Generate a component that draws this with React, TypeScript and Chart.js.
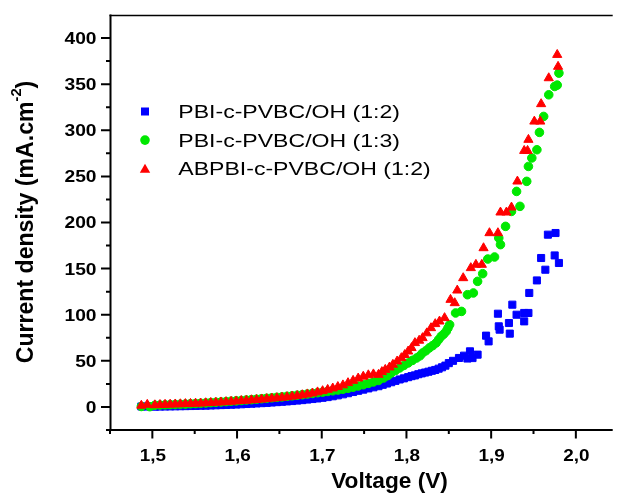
import React, { useEffect, useRef } from 'react';
import { Chart, registerables } from 'chart.js';

Chart.register(...registerables);

// ---------- data ----------
const seriesLabels = ['PBI-c-PVBC/OH (1:2)', 'PBI-c-PVBC/OH (1:3)', 'ABPBI-c-PVBC/OH (1:2)'];

const blueV = [1.487, 1.494, 1.503, 1.509, 1.515, 1.521, 1.527, 1.533, 1.539, 1.545, 1.551, 1.557, 1.563, 1.569, 1.575, 1.581, 1.587, 1.593, 1.599, 1.605, 1.611, 1.617, 1.623, 1.629, 1.635, 1.641, 1.647, 1.653, 1.659, 1.665, 1.671, 1.677, 1.683, 1.689, 1.695, 1.701, 1.707, 1.713, 1.719, 1.725, 1.731, 1.737, 1.743, 1.749, 1.755, 1.761, 1.767, 1.772, 1.777, 1.782, 1.787, 1.792, 1.797, 1.802, 1.806, 1.81, 1.814, 1.818, 1.822, 1.826, 1.83, 1.834, 1.838, 1.842, 1.846, 1.85, 1.855, 1.862, 1.868, 1.872, 1.875, 1.878, 1.884, 1.894, 1.897, 1.908, 1.909, 1.91, 1.921, 1.922, 1.925, 1.93, 1.939, 1.939, 1.944, 1.945, 1.954, 1.959, 1.964, 1.967, 1.975, 1.976, 1.98];
const blueJ = [0.5, 0.4, 0.3, 0.4, 0.5, 0.6, 0.7, 0.8, 0.9, 1.0, 1.1, 1.3, 1.4, 1.6, 1.8, 2.0, 2.2, 2.4, 2.6, 2.9, 3.2, 3.5, 3.8, 4.1, 4.4, 4.8, 5.2, 5.6, 6.0, 6.4, 6.9, 7.4, 8.0, 8.6, 9.2, 9.9, 10.7, 11.6, 12.6, 13.7, 14.9, 16.2, 17.5, 18.8, 20.1, 21.3, 22.5, 24, 25.4, 26.8, 28.3, 29.8, 31, 32.3, 33.4, 34.2, 35.5, 36.4, 37.3, 38.2, 39.2, 40.1, 41.5, 43, 44.8, 47.5, 50, 53.1, 55.6, 52.5, 60.3, 53, 56.7, 77.3, 71.1, 101.1, 87.4, 83.8, 91, 79.5, 110.9, 100, 101.9, 92.8, 101.9, 123.6, 137.2, 161.5, 148.8, 186.8, 164.3, 188.6, 156.1];

const greenV = [1.487, 1.497, 1.503, 1.509, 1.515, 1.521, 1.527, 1.533, 1.539, 1.545, 1.551, 1.557, 1.563, 1.569, 1.575, 1.581, 1.587, 1.593, 1.599, 1.605, 1.611, 1.617, 1.623, 1.629, 1.635, 1.641, 1.647, 1.653, 1.659, 1.665, 1.671, 1.677, 1.683, 1.689, 1.695, 1.701, 1.707, 1.713, 1.719, 1.725, 1.731, 1.737, 1.743, 1.749, 1.755, 1.761, 1.767, 1.773, 1.778, 1.782, 1.787, 1.792, 1.797, 1.802, 1.807, 1.812, 1.816, 1.819, 1.823, 1.827, 1.831, 1.835, 1.838, 1.841, 1.844, 1.847, 1.849, 1.851, 1.858, 1.865, 1.872, 1.879, 1.884, 1.89, 1.896, 1.904, 1.909, 1.911, 1.917, 1.924, 1.93, 1.934, 1.942, 1.944, 1.948, 1.954, 1.957, 1.962, 1.968, 1.975, 1.978, 1.98];
const greenJ = [0.5, 0.3, 1.8, 2.1, 2.3, 2.5, 2.7, 2.9, 3.1, 3.4, 3.7, 4.0, 4.3, 4.7, 5.0, 5.4, 5.8, 6.2, 6.6, 7.0, 7.5, 7.9, 8.4, 8.9, 9.4, 9.9, 10.4, 10.9, 11.5, 12.1, 12.7, 13.3, 14.0, 14.7, 15.4, 16.1, 16.8, 17.5, 18.3, 19.2, 20.2, 21.4, 22.7, 24.1, 25.6, 27.1, 28.7, 31.4, 34, 36.9, 39.5, 42.3, 45, 47.7, 50.5, 53.1, 55.5, 58.5, 61, 64, 66.5, 69.4, 73, 76.5, 79, 82, 85.5, 89.2, 101.9, 103.6, 121.7, 123.6, 136.2, 144.5, 160.4, 162.6, 183.2, 176, 195.8, 212, 233.7, 217.5, 244.6, 260.8, 270, 278.9, 297.7, 315, 338.5, 347.5, 349, 362];

const redV = [1.487, 1.494, 1.503, 1.509, 1.515, 1.521, 1.527, 1.533, 1.539, 1.545, 1.551, 1.557, 1.563, 1.569, 1.575, 1.581, 1.587, 1.593, 1.599, 1.605, 1.611, 1.617, 1.623, 1.629, 1.635, 1.641, 1.647, 1.653, 1.659, 1.665, 1.671, 1.677, 1.683, 1.689, 1.695, 1.701, 1.707, 1.713, 1.719, 1.725, 1.731, 1.737, 1.743, 1.749, 1.755, 1.761, 1.767, 1.771, 1.775, 1.78, 1.784, 1.789, 1.794, 1.798, 1.802, 1.806, 1.81, 1.815, 1.819, 1.824, 1.829, 1.834, 1.839, 1.845, 1.852, 1.857, 1.86, 1.867, 1.876, 1.882, 1.889, 1.891, 1.898, 1.908, 1.911, 1.918, 1.924, 1.931, 1.939, 1.943, 1.944, 1.951, 1.958, 1.959, 1.968, 1.979, 1.978];
const redJ = [1.5, 2.5, 2.0, 2.3, 2.5, 2.7, 2.9, 3.1, 3.3, 3.5, 3.7, 3.9, 4.2, 4.5, 4.8, 5.1, 5.4, 5.8, 6.2, 6.6, 7.0, 7.4, 7.8, 8.2, 8.7, 9.2, 9.7, 10.2, 10.8, 11.4, 12.1, 12.9, 13.8, 14.8, 16.0, 17.3, 18.7, 20.2, 21.8, 23.6, 26.0, 28.5, 31.0, 33.0, 34.5, 35.5, 35.0, 38.0, 40.4, 43.0, 45.9, 49.5, 53.1, 56.5, 60.3, 64.0, 69.4, 72.0, 74.8, 80.0, 85.6, 90.0, 92.8, 96.5, 116.3, 112.7, 126.4, 139.8, 150.7, 154.3, 154.3, 172.3, 188.6, 188.6, 211, 211, 216.4, 244.6, 277.8, 277.8, 289.8, 309.6, 309.6, 328.5, 356.6, 369, 381.9];

const xMajorTicks = [1.5, 1.6, 1.7, 1.8, 1.9, 2.0];
const xTickLabels = ['1,5', '1,6', '1,7', '1,8', '1,9', '2,0'];
const xMinorTicks = [1.45, 1.55, 1.65, 1.75, 1.85, 1.95];
const yMajorTicks = [0, 50, 100, 150, 200, 250, 300, 350, 400];
const yTickLabels = ['0', '50', '100', '150', '200', '250', '300', '350', '400'];
const yMinorTicks = [-25, 25, 75, 125, 175, 225, 275, 325, 375];
const xTitle = 'Voltage (V)';
const yTitleMain = 'Current density (mA.cm';
const yTitleSup = '-2';
const yTitleEnd = ')';

const BLUE = '#0000ff';
const GREEN = '#00e800';
const RED = '#ff0000';
const FONT = '"Liberation Sans", Arial, sans-serif';

function textStretched(ctx: CanvasRenderingContext2D, text: string, x: number, y: number, font: string, align: CanvasTextAlign, sx: number) {
  ctx.save();
  ctx.translate(x, y);
  ctx.scale(sx, 1);
  ctx.font = font;
  ctx.textAlign = align;
  ctx.textBaseline = 'alphabetic';
  ctx.fillStyle = '#000';
  ctx.fillText(text, 0, 0);
  ctx.restore();
}

const framePlugin = {
  id: 'originFrame',
  afterDatasetsDraw(chart: any) {
    const ctx: CanvasRenderingContext2D = chart.ctx;
    const ca = chart.chartArea;
    const xs = chart.scales.x;
    const ys = chart.scales.y;
    ctx.save();
    ctx.strokeStyle = '#000';
    ctx.lineCap = 'butt';
    // frame
    ctx.lineWidth = 2;
    ctx.beginPath();
    ctx.moveTo(ca.left + 0.5, ca.top - 0.5);
    ctx.lineTo(ca.left + 0.5, ca.bottom + 1);
    ctx.moveTo(ca.left - 0.5, ca.bottom);
    ctx.lineTo(ca.right, ca.bottom);
    ctx.stroke();
    ctx.lineWidth = 1.7;
    ctx.beginPath();
    ctx.moveTo(ca.left - 0.5, ca.top + 0.5);
    ctx.lineTo(ca.right, ca.top + 0.5);
    ctx.stroke();
    // y ticks
    ctx.lineWidth = 2;
    ctx.beginPath();
    yMajorTicks.forEach((v) => {
      const p = ys.getPixelForValue(v);
      ctx.moveTo(ca.left - 9, p);
      ctx.lineTo(ca.left, p);
    });
    yMinorTicks.forEach((v) => {
      const p = ys.getPixelForValue(v);
      ctx.moveTo(ca.left - 4, p);
      ctx.lineTo(ca.left, p);
    });
    // x ticks
    xMajorTicks.forEach((v) => {
      const p = xs.getPixelForValue(v);
      ctx.moveTo(p, ca.bottom);
      ctx.lineTo(p, ca.bottom + 8.5);
    });
    xMinorTicks.forEach((v) => {
      const p = xs.getPixelForValue(v);
      ctx.moveTo(p, ca.bottom);
      ctx.lineTo(p, ca.bottom + 4);
    });
    ctx.stroke();

    // tick labels
    const tickFont = `bold 16.3px ${FONT}`;
    yMajorTicks.forEach((v, i) => {
      const p = ys.getPixelForValue(v);
      textStretched(ctx, yTickLabels[i], ca.left - 13.5, p + 5.9, tickFont, 'right', 1.18);
    });
    xMajorTicks.forEach((v, i) => {
      const p = xs.getPixelForValue(v);
      textStretched(ctx, xTickLabels[i], p + 0.5, 460.5, tickFont, 'center', 1.16);
    });

    // x title
    textStretched(ctx, xTitle, 389.5, 487.5, `bold 22px ${FONT}`, 'center', 1.03);

    // y title (rotated, with superscript)
    ctx.save();
    ctx.translate(33, 222);
    ctx.rotate(-Math.PI / 2);
    ctx.scale(1.05, 1.1);
    ctx.fillStyle = '#000';
    ctx.textAlign = 'left';
    ctx.textBaseline = 'alphabetic';
    const big = `bold 22px ${FONT}`;
    const small = `bold 14px ${FONT}`;
    ctx.font = big;
    const w1 = ctx.measureText(yTitleMain).width;
    const w3 = ctx.measureText(yTitleEnd).width;
    ctx.font = small;
    const w2 = ctx.measureText(yTitleSup).width;
    let tx = -(w1 + w2 + w3) / 2;
    ctx.font = big;
    ctx.fillText(yTitleMain, tx, 0);
    tx += w1;
    ctx.font = small;
    ctx.fillText(yTitleSup, tx, -10.5);
    tx += w2;
    ctx.font = big;
    ctx.fillText(yTitleEnd, tx, 0);
    ctx.restore();

    // legend
    const lx = 145;
    const rows = [111.5, 140.1, 168.7];
    ctx.fillStyle = BLUE;
    ctx.fillRect(lx - 4, rows[0] - 4, 8, 8);
    ctx.fillStyle = GREEN;
    ctx.beginPath();
    ctx.arc(lx, rows[1], 4.8, 0, Math.PI * 2);
    ctx.fill();
    ctx.fillStyle = RED;
    ctx.beginPath();
    ctx.moveTo(lx, rows[2] - 5);
    ctx.lineTo(lx + 5.2, rows[2] + 4);
    ctx.lineTo(lx - 5.2, rows[2] + 4);
    ctx.closePath();
    ctx.fill();
    const legFont = `18.6px ${FONT}`;
    seriesLabels.forEach((s, i) => {
      textStretched(ctx, s, 178.3, rows[i] + 6.7, legFont, 'left', 1.24);
    });
    ctx.restore();
  },
};

function toPts(xs: number[], ys: number[]) {
  return xs.map((x, i) => ({ x, y: ys[i] }));
}

export default function App() {
  const ref = useRef<HTMLCanvasElement | null>(null);
  useEffect(() => {
    if (!ref.current) return;
    const chart = new Chart(ref.current, {
      type: 'scatter',
      data: {
        datasets: [
          {
            label: seriesLabels[2],
            data: toPts(redV, redJ),
            pointStyle: 'triangle',
            pointRadius: 5.3,
            backgroundColor: RED,
            borderColor: RED,
            borderWidth: 1,
            order: 0,
          },
          {
            label: seriesLabels[1],
            data: toPts(greenV, greenJ),
            pointStyle: 'circle',
            pointRadius: 4.3,
            backgroundColor: GREEN,
            borderColor: GREEN,
            borderWidth: 1,
            order: 1,
          },
          {
            label: seriesLabels[0],
            data: toPts(blueV, blueJ),
            pointStyle: 'rect',
            pointRadius: 5,
            backgroundColor: BLUE,
            borderColor: BLUE,
            borderWidth: 1,
            order: 2,
          },
        ],
      },
      options: {
        responsive: false,
        animation: false,
        layout: { padding: { top: 15, right: 0, left: 0, bottom: 0 } },
        plugins: { legend: { display: false }, tooltip: { enabled: false } },
        scales: {
          x: {
            type: 'linear',
            position: 'bottom',
            min: 1.45,
            max: 2.0435,
            ticks: { display: false },
            grid: { display: false },
            border: { display: false },
            afterFit: (s: any) => {
              s.height = 63;
            },
          },
          y: {
            type: 'linear',
            position: 'left',
            min: -25,
            max: 425,
            ticks: { display: false },
            grid: { display: false },
            border: { display: false },
            afterFit: (s: any) => {
              s.width = 110;
            },
          },
        },
      } as any,
      plugins: [framePlugin],
    });
    return () => chart.destroy();
  }, []);
  return (
    <div style={{ position: 'absolute', left: 0, top: 0, width: 619, height: 493, background: '#fff' }}>
      <canvas ref={ref} width={619} height={493} style={{ display: 'block' }} />
    </div>
  );
}
